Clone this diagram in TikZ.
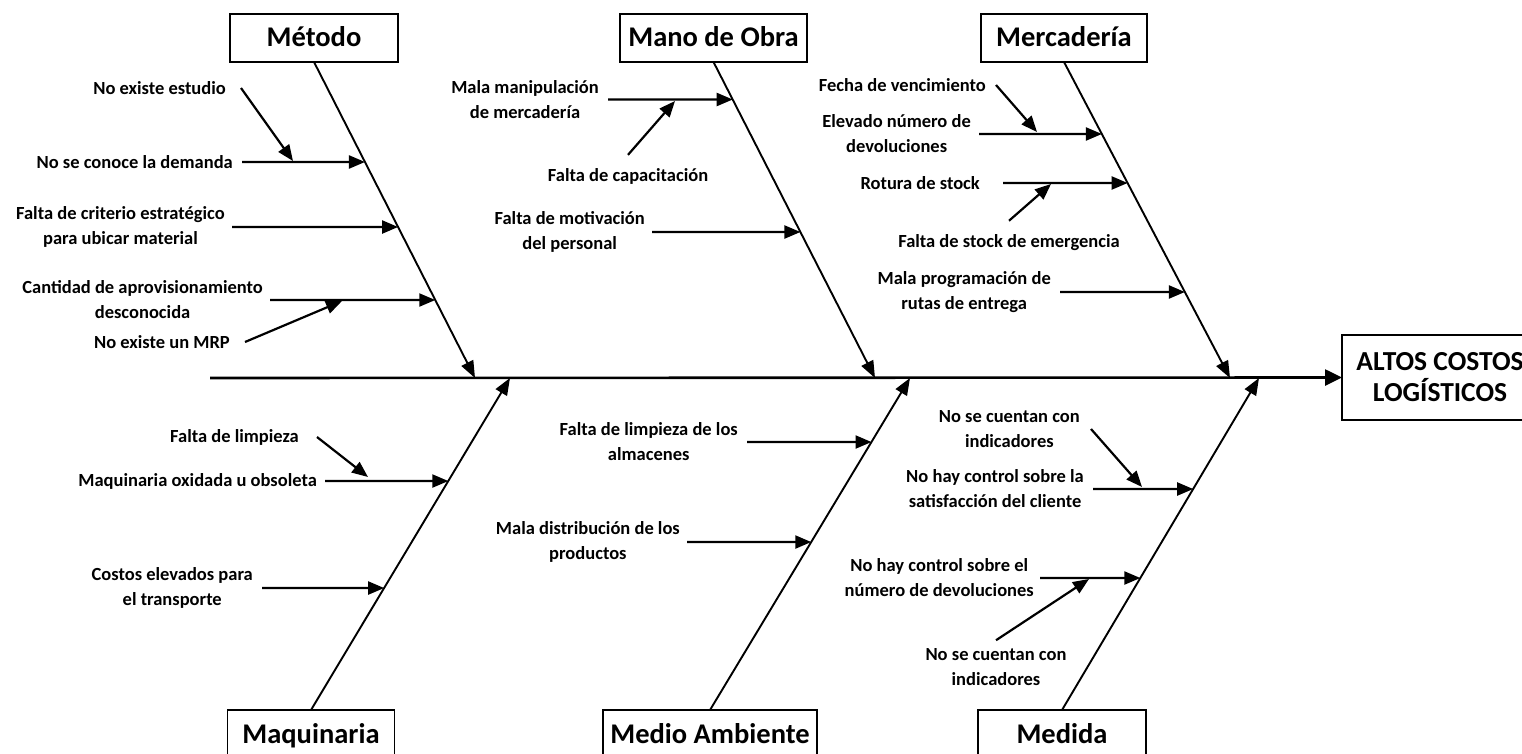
\documentclass[tikz,border=0pt]{standalone}
\usepackage{fontspec}
\setmainfont{Carlito}
\usetikzlibrary{arrows.meta,calc}
\tikzset{
  lbl/.style={font=\fontsize{18.5}{25}\selectfont\bfseries, align=center, inner sep=0pt},
  title/.style={draw, line width=1.9pt, font=\fontsize{28.5}{31}\selectfont\bfseries, minimum height=48pt, inner sep=0pt, outer sep=0pt, text height=20pt, text depth=2pt},
  spine/.style={line width=2.6pt, -{Triangle[length=17pt,width=16pt]}},
  bone/.style={line width=1.9pt, -{Triangle[length=17pt,width=13pt]}},
  sub/.style={line width=2.2pt, -{Triangle[length=16pt,width=13pt]}},
}
\begin{document}
\begin{tikzpicture}[x=1pt,y=-1pt]
\useasboundingbox (0,0) rectangle (1522,754);
\clip (0,0) rectangle (1522,754);

% category boxes
\node[title, minimum width=168pt] (metodo) at (314,38) {Método};
\node[title, minimum width=187pt] (obra) at (713.5,38) {Mano de Obra};
\node[title, minimum width=166pt] (merc) at (1064,38) {Mercadería};
\node[title, minimum width=167pt] (maq) at (311,734) {Maquinaria};
\node[title, minimum width=214pt] (amb) at (710,734) {Medio Ambiente};
\node[title, minimum width=168pt] (med) at (1062,734) {Medida};
\node[draw, line width=1.9pt, inner sep=0pt, outer sep=0pt, minimum height=85pt, minimum width=196pt, align=center, anchor=west, font=\fontsize{27.5}{31}\selectfont\bfseries] (effect) at (1342,377.5) {ALTOS COSTOS\\LOGÍSTICOS};

% spine
\coordinate (tail) at (210,378);
\draw[spine] (tail) -- (effect.west);

% bone ends on spine
\coordinate (mt) at (475,378);
\coordinate (ot) at (875,378);
\coordinate (et) at (1230,378);
\coordinate (qt) at (510,378);
\coordinate (at) at (910,378);
\coordinate (dt) at (1259,378);

\draw[bone] (metodo.south) -- (mt);
\draw[bone] (obra.south) -- (ot);
\draw[bone] (merc.south) -- (et);
\draw[bone] (maq.north) -- (qt);
\draw[bone] (amb.north) -- (at);
\draw[bone] (med.north) -- (dt);

% ---------- Metodo ----------
\node[lbl, anchor=east] (mA) at (226,88) {No existe estudio};
\node[lbl, anchor=east] (mB) at (233,162) {No se conoce la demanda};
\node[lbl, anchor=east] (mC) at (225,227) {Falta de criterio estratégico\\para ubicar material};
\node[lbl, anchor=east] (mD) at (263,300) {Cantidad de aprovisionamiento\\desconocida};
\node[lbl, anchor=east] (mE) at (230,342) {No existe un MRP};
\coordinate (mBt) at (intersection of metodo.south--mt and 0,162--10,162);
\coordinate (mCt) at (intersection of metodo.south--mt and 0,227--10,227);
\coordinate (mDt) at (intersection of metodo.south--mt and 0,300--10,300);
\coordinate (mAt) at (293,161);
\coordinate (mEt) at (342,301);
\draw[sub] ([xshift=9pt]mB.east) -- (mBt);
\draw[sub] ([xshift=7pt]mC.east) -- (mCt);
\draw[sub] ([xshift=7pt]mD.east) -- (mDt);
\draw[sub] ([xshift=15pt]mA.east) -- (mAt);
\draw[sub] ([xshift=15pt]mE.east) -- (mEt);

% ---------- Mano de Obra ----------
\node[lbl, anchor=east] (oA) at (599,99.5) {Mala manipulación\\de mercadería};
\node[lbl] (oB) at (628,176) {Falta de capacitación};
\node[lbl, anchor=east] (oC) at (645,232) {Falta de motivación\\del personal};
\coordinate (oAt) at (intersection of obra.south--ot and 0,99.5--10,99.5);
\coordinate (oCt) at (intersection of obra.south--ot and 0,232--10,232);
\coordinate (oBt) at (675,101);
\draw[sub] ([xshift=9pt]oA.east) -- (oAt);
\draw[sub] ([xshift=7pt]oC.east) -- (oCt);
\draw[sub] ([yshift=13pt]oB.north) -- (oBt);

% ---------- Mercaderia ----------
\node[lbl, anchor=east] (eA) at (986,85) {Fecha de vencimiento};
\node[lbl, anchor=east] (eB) at (971,134) {Elevado número de\\devoluciones};
\node[lbl, anchor=east] (eC) at (980,183) {Rotura de stock};
\node[lbl] (eD) at (1009,243) {Falta de stock de emergencia};
\node[lbl, anchor=east] (eE) at (1051,292) {Mala programación de\\rutas de entrega};
\coordinate (eBt) at (intersection of merc.south--et and 0,134--10,134);
\coordinate (eCt) at (intersection of merc.south--et and 0,183--10,183);
\coordinate (eEt) at (intersection of merc.south--et and 0,292--10,292);
\coordinate (eAt) at (1037,132);
\coordinate (eDt) at (1051,184);
\draw[sub] ([xshift=8pt]eB.east) -- (eBt);
\draw[sub] ([xshift=23pt]eC.east) -- (eCt);
\draw[sub] ([xshift=9pt]eE.east) -- (eEt);
\draw[sub] ([xshift=10pt]eA.east) -- (eAt);
\draw[sub] ([yshift=14pt]eD.north) -- (eDt);

% ---------- Maquinaria ----------
\node[lbl, anchor=east] (qA) at (299,437) {Falta de limpieza};
\node[lbl, anchor=east] (qB) at (317,481) {Maquinaria oxidada u obsoleta};
\node[lbl, anchor=east] (qC) at (253,588) {Costos elevados para\\el transporte};
\coordinate (qBt) at (intersection of maq.north--qt and 0,481--10,481);
\coordinate (qCt) at (intersection of maq.north--qt and 0,588--10,588);
\coordinate (qAt) at (368,477);
\draw[sub] ([xshift=8pt]qB.east) -- (qBt);
\draw[sub] ([xshift=9pt]qC.east) -- (qCt);
\draw[sub] ([xshift=18pt]qA.east) -- (qAt);

% ---------- Medio Ambiente ----------
\node[lbl, anchor=east] (aA) at (738,442) {Falta de limpieza de los\\almacenes};
\node[lbl, anchor=east] (aB) at (680,542) {Mala distribución de los\\productos};
\coordinate (aAt) at (intersection of amb.north--at and 0,442--10,442);
\coordinate (aBt) at (intersection of amb.north--at and 0,542--10,542);
\draw[sub] ([xshift=9pt]aA.east) -- (aAt);
\draw[sub] ([xshift=7pt]aB.east) -- (aBt);

% ---------- Medida ----------
\node[lbl, anchor=east] (dA) at (1080,429) {No se cuentan con\\indicadores};
\node[lbl, anchor=east] (dB) at (1084,489) {No hay control sobre la\\satisfacción del cliente};
\node[lbl, anchor=east] (dC) at (1034,578) {No hay control sobre el\\número de devoluciones};
\node[lbl] (dD) at (996,667) {No se cuentan con\\indicadores};
\coordinate (dBt) at (intersection of med.north--dt and 0,489--10,489);
\coordinate (dCt) at (intersection of med.north--dt and 0,578--10,578);
\coordinate (dAt) at (1142,487);
\coordinate (dDt) at (1089,579);
\draw[sub] ([xshift=9pt]dB.east) -- (dBt);
\draw[sub] ([xshift=6pt]dC.east) -- (dCt);
\draw[sub] ([xshift=11pt]dA.east) -- (dAt);
\draw[sub] ([yshift=8pt]dD.north) -- (dDt);
\end{tikzpicture}
\end{document}
